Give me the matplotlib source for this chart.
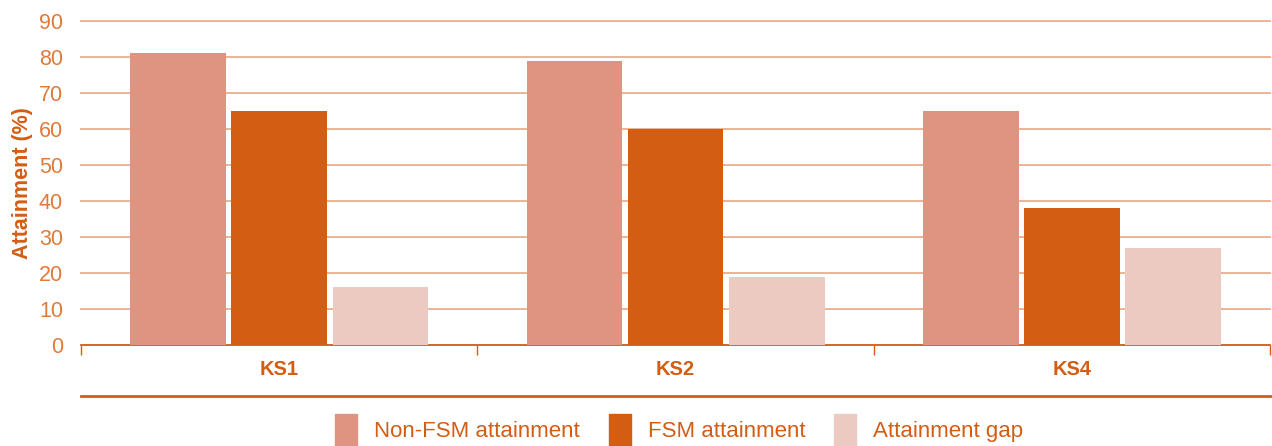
import matplotlib
matplotlib.use('Agg')
import matplotlib.pyplot as plt
import numpy as np
from matplotlib.lines import Line2D
from matplotlib.patches import Patch

plt.rcParams['font.family'] = ['Liberation Sans', 'DejaVu Sans']

# Data
stages = ['KS1', 'KS2', 'KS4']
non_fsm = [81, 79, 65]
fsm = [65, 60, 38]
gap = [16, 19, 27]
series_names = ['Non-FSM attainment', 'FSM attainment', 'Attainment gap']

c_non = '#DF9481'
c_fsm = '#D35D13'
c_gap = '#EDCAC1'
c_grid = '#E8AE8E'
c_text = '#D35D13'
c_tick = '#E07A3C'

fig = plt.figure(figsize=(12.72, 4.46), dpi=100)
ax = fig.add_axes([0.0637, 0.2265, 0.935, 0.7265])

x = np.arange(len(stages))
w = 0.241
step = 0.255
ax.bar(x - step, non_fsm, w, color=c_non, zorder=3)
ax.bar(x, fsm, w, color=c_fsm, zorder=3)
ax.bar(x + step, gap, w, color=c_gap, zorder=3)

ax.set_xlim(-0.5, 2.5)
ax.set_ylim(0, 90)
ax.set_yticks(range(0, 91, 10))
ax.yaxis.grid(True, color=c_grid, linewidth=1.3, zorder=0)
for gl in ax.get_ygridlines():
    gl.set_clip_on(False)
ax.set_axisbelow(True)

for s in ['top', 'right', 'left']:
    ax.spines[s].set_visible(False)
ax.spines['bottom'].set_color(c_text)
ax.spines['bottom'].set_linewidth(1.2)

ax.tick_params(axis='y', length=0, labelsize=15.5, labelcolor=c_tick, pad=13)
ax.set_xticks(x)
ax.set_xticklabels(stages, fontsize=14.5, fontweight='bold', color=c_text)
ax.tick_params(axis='x', which='major', length=0, pad=11)
ax.set_xticks([-0.5, 0.5, 1.5, 2.5], minor=True)
ax.tick_params(axis='x', which='minor', length=7, width=1, color=c_text, direction='out')

ax.set_ylabel('Attainment (%)', fontsize=15.5, fontweight='bold', color=c_text, labelpad=4)

# separator line above legend
fig.add_artist(Line2D([0.0637, 1.0], [0.112, 0.112], color=c_text, linewidth=2,
                      transform=fig.transFigure))

handles = [Patch(color=c_non), Patch(color=c_fsm), Patch(color=c_gap)]
leg = fig.legend(handles, series_names, loc='center', bbox_to_anchor=(0.534, 0.036),
                 ncol=3, frameon=False, fontsize=16, handlelength=1.0, handleheight=1.8,
                 handletextpad=0.75, columnspacing=1.3)
for t in leg.get_texts():
    t.set_color(c_text)

fig.savefig('out.png', dpi=100)
